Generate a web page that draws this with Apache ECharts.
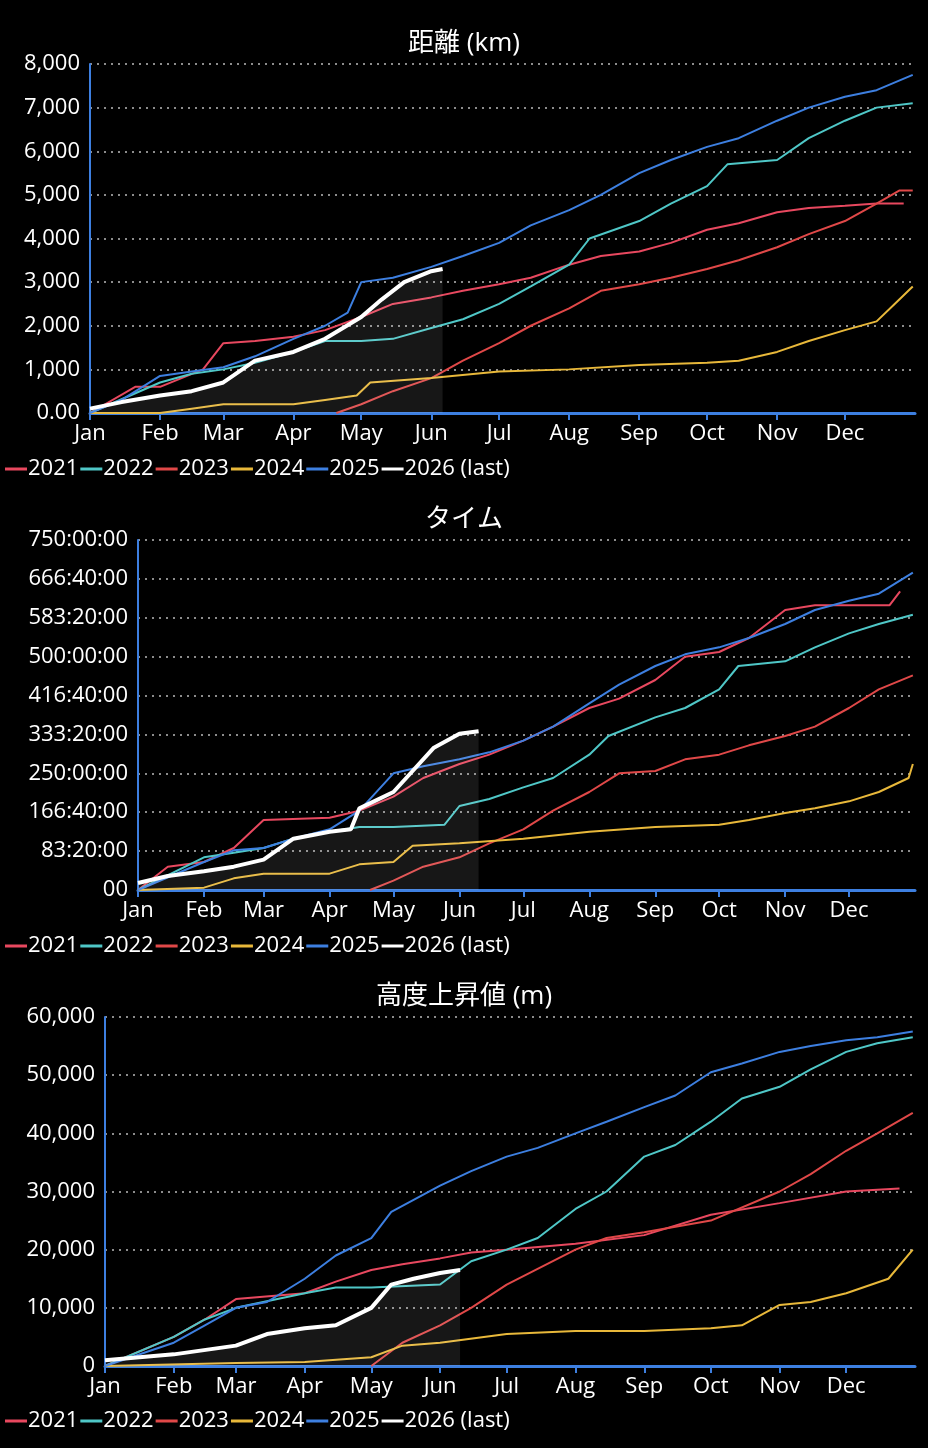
<!DOCTYPE html><html><head><meta charset="utf-8">
<script src="https://cdn.jsdelivr.net/npm/echarts@6/dist/echarts.min.js"></script>
<style>html,body{margin:0;background:#000}#c{width:928px;height:1448px}</style></head><body><div id="c"></div>
<script>
const monthNames=['Jan','Feb','Mar','Apr','May','Jun','Jul','Aug','Sep','Oct','Nov','Dec'];
const monthStarts=[0,31,59,90,120,151,181,212,243,273,304,334];
const years=['2021','2022','2023','2024','2025','2026 (last)'];
const colors=['#e8485f','#4fc7c7','#e04848','#e8b83a','#3d7fe0','#ffffff'];
// [day-of-year, cumulative value]
const dist2021=[[0,0],[20,600],[31,600],[50,1000],[59,1600],[73,1650],[90,1750],[104,1900],[120,2200],[134,2500],[151,2650],[165,2800],[181,2950],[195,3100],[212,3400],[226,3600],[243,3700],[257,3900],[273,4200],[287,4350],[304,4600],[318,4700],[334,4750],[348,4800],[360,4800]];
const dist2022=[[0,0],[31,700],[45,900],[59,1000],[73,1150],[90,1400],[104,1650],[120,1650],[134,1700],[151,1950],[165,2150],[181,2500],[195,2900],[212,3400],[221,4000],[243,4400],[257,4800],[273,5200],[282,5700],[304,5800],[318,6300],[334,6700],[348,7000],[364,7100]];
const dist2023=[[109,0],[120,200],[134,500],[151,800],[165,1200],[181,1600],[195,2000],[212,2400],[226,2800],[243,2950],[257,3100],[273,3300],[287,3500],[304,3800],[318,4100],[334,4400],[348,4800],[358,5100],[364,5100]];
const dist2024=[[0,0],[31,0],[45,100],[59,200],[90,200],[104,300],[118,400],[124,700],[151,800],[181,950],[212,1000],[243,1100],[273,1150],[287,1200],[304,1400],[318,1650],[334,1900],[348,2100],[356,2500],[364,2900]];
const dist2025=[[0,0],[14,300],[31,850],[45,950],[59,1050],[73,1300],[90,1700],[104,2000],[114,2300],[120,3000],[134,3100],[151,3350],[165,3600],[181,3900],[195,4300],[212,4650],[226,5000],[243,5500],[257,5800],[273,6100],[287,6300],[304,6700],[318,7000],[334,7250],[348,7400],[364,7750]];
const dist2026=[[0,100],[14,250],[31,400],[45,500],[59,700],[73,1200],[90,1400],[104,1700],[120,2200],[129,2600],[139,3000],[151,3250],[156,3300]];
const time2021=[[0,0],[14,50],[31,60],[45,90],[59,150],[90,155],[104,170],[120,200],[134,240],[151,270],[165,290],[181,320],[195,350],[212,390],[226,410],[243,450],[257,500],[273,510],[287,540],[304,600],[318,610],[334,610],[353,610],[358,640]];
const time2022=[[0,0],[31,70],[45,80],[59,90],[73,110],[90,125],[104,135],[120,135],[144,140],[151,180],[165,195],[181,220],[195,240],[212,290],[221,330],[243,370],[257,390],[273,430],[282,480],[304,490],[318,520],[334,550],[348,570],[364,590]];
const time2023=[[109,0],[120,20],[134,50],[151,70],[165,100],[181,130],[195,170],[212,210],[226,250],[243,255],[257,280],[273,290],[287,310],[304,330],[318,350],[334,390],[348,430],[364,460]];
const time2024=[[0,0],[31,5],[45,25],[59,35],[90,35],[104,55],[120,60],[129,95],[151,100],[181,110],[212,125],[243,135],[273,140],[287,150],[304,165],[318,175],[334,190],[348,210],[362,240],[364,270]];
const time2025=[[0,0],[31,60],[45,85],[59,90],[73,110],[90,130],[104,170],[120,250],[134,265],[151,280],[165,295],[181,320],[195,350],[212,400],[226,440],[243,480],[257,505],[273,520],[287,540],[304,570],[318,600],[334,620],[348,635],[364,680]];
const time2026=[[0,15],[14,30],[31,40],[45,50],[59,65],[73,110],[90,125],[100,130],[104,175],[120,210],[129,255],[139,305],[151,335],[160,340]];
const elev2021=[[0,0],[31,5000],[45,8000],[59,11500],[90,12500],[104,14500],[120,16500],[134,17500],[151,18500],[165,19500],[181,20000],[212,21000],[243,22500],[273,26000],[304,28000],[334,30000],[358,30500]];
const elev2022=[[0,0],[31,5000],[45,8000],[59,10000],[90,12500],[104,13500],[120,13500],[151,14000],[165,18000],[181,20000],[195,22000],[212,27000],[226,30000],[243,36000],[257,38000],[273,42000],[287,46000],[304,48000],[318,51000],[334,54000],[348,55500],[364,56500]];
const elev2023=[[120,0],[134,4000],[151,7000],[165,10000],[181,14000],[212,20000],[226,22000],[243,23000],[273,25000],[304,30000],[318,33000],[334,37000],[348,40000],[364,43500]];
const elev2024=[[0,0],[59,500],[90,700],[120,1500],[134,3500],[151,4000],[181,5500],[212,6000],[243,6000],[273,6500],[287,7000],[304,10500],[318,11000],[334,12500],[353,15000],[364,20000]];
const elev2025=[[0,0],[31,4000],[45,7000],[59,10000],[73,11000],[90,15000],[104,19000],[120,22000],[129,26500],[151,31000],[165,33500],[181,36000],[195,37500],[212,40000],[226,42000],[243,44500],[257,46500],[273,50500],[287,52000],[304,54000],[318,55000],[334,56000],[348,56500],[364,57500]];
const elev2026=[[0,1000],[31,2000],[59,3500],[73,5500],[90,6500],[104,7000],[120,10000],[129,14000],[139,15000],[151,16000],[160,16500]];

const panels=[
 {title:'距離 (km)',data:[dist2021,dist2022,dist2023,dist2024,dist2025,dist2026],max:8000,interval:1000,fmt:v=>v===0?'0.00':v.toLocaleString('en-US'),grid:{left:90,top:64,height:349},titleTop:26,legendTop:453},
 {title:'タイム',data:[time2021,time2022,time2023,time2024,time2025,time2026],max:750,interval:250/3,fmt:v=>{if(v<0.01)return '00';const s=Math.round(v*3600);const h=Math.floor(s/3600),m=Math.floor(s%3600/60),ss=s%60;return h+':'+String(m).padStart(2,'0')+':'+String(ss).padStart(2,'0');},grid:{left:138,top:540,height:350},titleTop:502,legendTop:930},
 {title:'高度上昇値 (m)',data:[elev2021,elev2022,elev2023,elev2024,elev2025,elev2026],max:60000,interval:10000,fmt:v=>v===0?'0':v.toLocaleString('en-US'),grid:{left:105,top:1017,height:349},titleTop:979,legendTop:1405}
];
const ff='"Open Sans", "Noto Sans CJK JP", sans-serif';
const tx={color:'#fff',fontFamily:ff,fontSize:22};
const option={backgroundColor:'#000',animation:false,title:[],legend:[],grid:[],xAxis:[],yAxis:[],series:[]};
panels.forEach((p,i)=>{
 option.title.push({text:p.title,left:'center',top:p.titleTop,textStyle:Object.assign({},tx,{fontSize:26,fontWeight:'normal'})});
 option.grid.push({left:p.grid.left,top:p.grid.top,height:p.grid.height,right:13});
 option.xAxis.push({type:'value',gridIndex:i,min:0,max:365,
  axisLine:{lineStyle:{color:'#3d7fe0',width:3}},
  axisTick:{show:true,customValues:monthStarts,length:7,lineStyle:{color:'#3d7fe0',width:2}},
  axisLabel:{customValues:monthStarts,formatter:v=>monthNames[monthStarts.indexOf(v)]||'',color:'#fff',fontSize:22,fontFamily:ff,margin:10},
  splitLine:{show:false}});
 option.yAxis.push({type:'value',gridIndex:i,min:0,max:p.max,interval:p.interval,
  axisLine:{show:true,lineStyle:{color:'#3d7fe0',width:2}},axisTick:{show:false},
  axisLabel:{formatter:p.fmt,color:'#fff',fontSize:22,fontFamily:ff,margin:10},
  splitLine:{lineStyle:{color:'#bbb',type:[2,5],width:1.5}}});
 option.legend.push({left:0,top:p.legendTop,itemGap:2,itemWidth:22,itemHeight:3,icon:'rect',textStyle:Object.assign({},tx,{padding:[0,0,0,-4]}),
  data:years.map((y,k)=>({name:y+'\u200b'.repeat(i),itemStyle:{color:colors[k]}}))});
 p.data.forEach((d,k)=>{
  const s={name:years[k]+'\u200b'.repeat(i),type:'line',xAxisIndex:i,yAxisIndex:i,data:d,showSymbol:false,symbol:'none',
   lineStyle:{color:colors[k],width:k===5?4:2},itemStyle:{color:colors[k]},z:k===5?5:2};
  if(k===5) s.areaStyle={color:'rgba(255,255,255,0.13)'};
  option.series.push(s);
 });
});
echarts.init(document.getElementById('c')).setOption(option);
</script></body></html>
